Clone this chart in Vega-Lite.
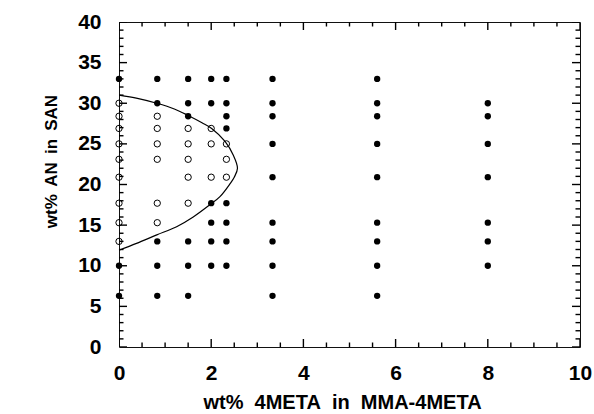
{
  "$schema": "https://vega.github.io/schema/vega-lite/v6.json",
  "width": 461,
  "height": 325,
  "autosize": "none",
  "padding": {"left": 119, "top": 22, "right": 14, "bottom": 67},
  "background": "white",
  "config": {
    "view": {"stroke": "#111111", "strokeWidth": 1},
    "axis": {
      "labelFont": "Liberation Sans",
      "labelFontWeight": "bold",
      "labelFontSize": 21,
      "labelColor": "black",
      "titleFont": "Liberation Sans",
      "titleFontWeight": "bold",
      "titleColor": "black",
      "domain": false,
      "grid": false,
      "ticks": false,
      "labelFlush": false,
      "labelOverlap": false
    }
  },
  "datasets": {
    "xt": [
      {"v": 0, "k": "major"}, {"v": 0.5, "k": "minor"}, {"v": 1, "k": "minor"}, {"v": 1.5, "k": "minor"},
      {"v": 2, "k": "major"}, {"v": 2.5, "k": "minor"}, {"v": 3, "k": "minor"}, {"v": 3.5, "k": "minor"},
      {"v": 4, "k": "major"}, {"v": 4.5, "k": "minor"}, {"v": 5, "k": "minor"}, {"v": 5.5, "k": "minor"},
      {"v": 6, "k": "major"}, {"v": 6.5, "k": "minor"}, {"v": 7, "k": "minor"}, {"v": 7.5, "k": "minor"},
      {"v": 8, "k": "major"}, {"v": 8.5, "k": "minor"}, {"v": 9, "k": "minor"}, {"v": 9.5, "k": "minor"},
      {"v": 10, "k": "major"}
    ],
    "yt": [
      {"v": 0, "k": "major"}, {"v": 1, "k": "minor"}, {"v": 2, "k": "minor"}, {"v": 3, "k": "minor"}, {"v": 4, "k": "minor"},
      {"v": 5, "k": "major"}, {"v": 6, "k": "minor"}, {"v": 7, "k": "minor"}, {"v": 8, "k": "minor"}, {"v": 9, "k": "minor"},
      {"v": 10, "k": "major"}, {"v": 11, "k": "minor"}, {"v": 12, "k": "minor"}, {"v": 13, "k": "minor"}, {"v": 14, "k": "minor"},
      {"v": 15, "k": "major"}, {"v": 16, "k": "minor"}, {"v": 17, "k": "minor"}, {"v": 18, "k": "minor"}, {"v": 19, "k": "minor"},
      {"v": 20, "k": "major"}, {"v": 21, "k": "minor"}, {"v": 22, "k": "minor"}, {"v": 23, "k": "minor"}, {"v": 24, "k": "minor"},
      {"v": 25, "k": "major"}, {"v": 26, "k": "minor"}, {"v": 27, "k": "minor"}, {"v": 28, "k": "minor"}, {"v": 29, "k": "minor"},
      {"v": 30, "k": "major"}, {"v": 31, "k": "minor"}, {"v": 32, "k": "minor"}, {"v": 33, "k": "minor"}, {"v": 34, "k": "minor"},
      {"v": 35, "k": "major"}, {"v": 36, "k": "minor"}, {"v": 37, "k": "minor"}, {"v": 38, "k": "minor"}, {"v": 39, "k": "minor"},
      {"v": 40, "k": "major"}
    ],
    "pts": [
      {"x": 0, "y": 33, "s": "f"}, {"x": 0, "y": 30, "s": "o"}, {"x": 0, "y": 28.4, "s": "o"}, {"x": 0, "y": 26.9, "s": "o"},
      {"x": 0, "y": 25, "s": "o"}, {"x": 0, "y": 23.1, "s": "o"}, {"x": 0, "y": 20.9, "s": "o"}, {"x": 0, "y": 17.7, "s": "o"},
      {"x": 0, "y": 15.3, "s": "o"}, {"x": 0, "y": 13, "s": "o"}, {"x": 0, "y": 10, "s": "f"}, {"x": 0, "y": 6.3, "s": "f"},
      {"x": 0.83, "y": 33, "s": "f"}, {"x": 0.83, "y": 30, "s": "f"}, {"x": 0.83, "y": 28.4, "s": "o"}, {"x": 0.83, "y": 26.9, "s": "o"},
      {"x": 0.83, "y": 25, "s": "o"}, {"x": 0.83, "y": 23.1, "s": "o"}, {"x": 0.83, "y": 17.7, "s": "o"}, {"x": 0.83, "y": 15.3, "s": "o"},
      {"x": 0.83, "y": 13, "s": "f"}, {"x": 0.83, "y": 10, "s": "f"}, {"x": 0.83, "y": 6.3, "s": "f"},
      {"x": 1.5, "y": 33, "s": "f"}, {"x": 1.5, "y": 30, "s": "f"}, {"x": 1.5, "y": 28.4, "s": "f"}, {"x": 1.5, "y": 26.9, "s": "o"},
      {"x": 1.5, "y": 25, "s": "o"}, {"x": 1.5, "y": 23.1, "s": "o"}, {"x": 1.5, "y": 20.9, "s": "o"}, {"x": 1.5, "y": 17.7, "s": "o"},
      {"x": 1.5, "y": 13, "s": "f"}, {"x": 1.5, "y": 10, "s": "f"}, {"x": 1.5, "y": 6.3, "s": "f"},
      {"x": 2.0, "y": 33, "s": "f"}, {"x": 2.0, "y": 30, "s": "f"}, {"x": 2.0, "y": 26.9, "s": "o"}, {"x": 2.0, "y": 25, "s": "o"},
      {"x": 2.0, "y": 20.9, "s": "o"}, {"x": 2.0, "y": 17.7, "s": "f"}, {"x": 2.0, "y": 15.3, "s": "f"}, {"x": 2.0, "y": 13, "s": "f"},
      {"x": 2.0, "y": 10, "s": "f"},
      {"x": 2.33, "y": 33, "s": "f"}, {"x": 2.33, "y": 30, "s": "f"}, {"x": 2.33, "y": 28.4, "s": "f"}, {"x": 2.33, "y": 26.9, "s": "f"},
      {"x": 2.33, "y": 25, "s": "o"}, {"x": 2.33, "y": 23.1, "s": "o"}, {"x": 2.33, "y": 20.9, "s": "o"}, {"x": 2.33, "y": 17.7, "s": "f"},
      {"x": 2.33, "y": 15.3, "s": "f"}, {"x": 2.33, "y": 13, "s": "f"}, {"x": 2.33, "y": 10, "s": "f"},
      {"x": 3.33, "y": 33, "s": "f"}, {"x": 3.33, "y": 30, "s": "f"}, {"x": 3.33, "y": 28.4, "s": "f"}, {"x": 3.33, "y": 25, "s": "f"},
      {"x": 3.33, "y": 20.9, "s": "f"}, {"x": 3.33, "y": 15.3, "s": "f"}, {"x": 3.33, "y": 13, "s": "f"}, {"x": 3.33, "y": 10, "s": "f"},
      {"x": 3.33, "y": 6.3, "s": "f"},
      {"x": 5.6, "y": 33, "s": "f"}, {"x": 5.6, "y": 30, "s": "f"}, {"x": 5.6, "y": 28.4, "s": "f"}, {"x": 5.6, "y": 25, "s": "f"},
      {"x": 5.6, "y": 20.9, "s": "f"}, {"x": 5.6, "y": 15.3, "s": "f"}, {"x": 5.6, "y": 13, "s": "f"}, {"x": 5.6, "y": 10, "s": "f"},
      {"x": 5.6, "y": 6.3, "s": "f"},
      {"x": 8.0, "y": 30, "s": "f"}, {"x": 8.0, "y": 28.4, "s": "f"}, {"x": 8.0, "y": 25, "s": "f"}, {"x": 8.0, "y": 20.9, "s": "f"},
      {"x": 8.0, "y": 15.3, "s": "f"}, {"x": 8.0, "y": 13, "s": "f"}, {"x": 8.0, "y": 10, "s": "f"}
    ],
    "curve": [
      {"i": 1, "x": 0.0, "y": 31.0}, {"i": 2, "x": 0.4, "y": 30.6}, {"i": 3, "x": 0.82, "y": 30.0},
      {"i": 4, "x": 1.2, "y": 29.3}, {"i": 5, "x": 1.5, "y": 28.5}, {"i": 6, "x": 1.8, "y": 27.6},
      {"i": 7, "x": 2.01, "y": 26.9}, {"i": 8, "x": 2.3, "y": 25.3}, {"i": 9, "x": 2.48, "y": 23.6},
      {"i": 10, "x": 2.57, "y": 22.0}, {"i": 11, "x": 2.5, "y": 20.9}, {"i": 12, "x": 2.41, "y": 20.1},
      {"i": 13, "x": 2.19, "y": 18.5}, {"i": 14, "x": 1.97, "y": 17.5}, {"i": 15, "x": 1.61, "y": 16.0},
      {"i": 16, "x": 1.25, "y": 14.8}, {"i": 17, "x": 0.82, "y": 13.8}, {"i": 18, "x": 0.38, "y": 12.75},
      {"i": 19, "x": 0.0, "y": 11.9}
    ]
  },
  "layer": [
    {
      "data": {"name": "curve"},
      "mark": {"type": "line", "interpolate": "catmull-rom", "color": "black", "strokeWidth": 1.2},
      "encoding": {
        "x": {"field": "x", "type": "quantitative", "scale": {"domain": [0, 10], "nice": false},
          "axis": {"orient": "bottom", "values": [0, 2, 4, 6, 8, 10], "labelPadding": 15,
            "title": "wt%\u00a0 4META\u00a0 in\u00a0 MMA-4META", "titleFontSize": 20, "titlePadding": 9, "titleX": 223}},
        "y": {"field": "y", "type": "quantitative", "scale": {"domain": [0, 40], "nice": false},
          "axis": {"orient": "left", "values": [0, 5, 10, 15, 20, 25, 30, 35, 40], "labelPadding": 18,
            "title": "wt%\u2009 AN\u2009 in\u2009 SAN", "titleFontSize": 17, "titlePadding": 17, "titleY": 139}},
        "order": {"field": "i", "type": "quantitative"}
      }
    },
    {
      "data": {"name": "xt"},
      "mark": {"type": "tick", "orient": "vertical", "thickness": 1.4, "color": "black", "opacity": 1, "clip": true},
      "encoding": {
        "x": {"field": "v", "type": "quantitative", "axis": null},
        "y": {"datum": 0, "type": "quantitative", "axis": null},
        "size": {"field": "k", "type": "nominal", "scale": {"domain": ["major", "minor"], "range": [16, 9]}, "legend": null}
      }
    },
    {
      "data": {"name": "xt"},
      "mark": {"type": "tick", "orient": "vertical", "thickness": 1.4, "color": "black", "opacity": 1, "clip": true},
      "encoding": {
        "x": {"field": "v", "type": "quantitative", "axis": null},
        "y": {"datum": 40, "type": "quantitative", "axis": null},
        "size": {"field": "k", "type": "nominal", "scale": {"domain": ["major", "minor"], "range": [16, 9]}, "legend": null}
      }
    },
    {
      "data": {"name": "yt"},
      "mark": {"type": "tick", "orient": "horizontal", "thickness": 1.4, "color": "black", "opacity": 1, "clip": true},
      "encoding": {
        "y": {"field": "v", "type": "quantitative", "axis": null},
        "x": {"datum": 0, "type": "quantitative", "axis": null},
        "size": {"field": "k", "type": "nominal", "scale": {"domain": ["major", "minor"], "range": [16, 9]}, "legend": null}
      }
    },
    {
      "data": {"name": "yt"},
      "mark": {"type": "tick", "orient": "horizontal", "thickness": 1.4, "color": "black", "opacity": 1, "clip": true},
      "encoding": {
        "y": {"field": "v", "type": "quantitative", "axis": null},
        "x": {"datum": 10, "type": "quantitative", "axis": null},
        "size": {"field": "k", "type": "nominal", "scale": {"domain": ["major", "minor"], "range": [16, 9]}, "legend": null}
      }
    },
    {
      "data": {"name": "pts"},
      "transform": [{"filter": "datum.s == 'o'"}],
      "mark": {"type": "point", "shape": "circle", "filled": false, "stroke": "black", "strokeWidth": 1, "size": 40, "opacity": 1},
      "encoding": {
        "x": {"field": "x", "type": "quantitative", "axis": null},
        "y": {"field": "y", "type": "quantitative", "axis": null}
      }
    },
    {
      "data": {"name": "pts"},
      "transform": [{"filter": "datum.s == 'f'"}],
      "mark": {"type": "point", "shape": "circle", "filled": true, "color": "black", "size": 40, "opacity": 1},
      "encoding": {
        "x": {"field": "x", "type": "quantitative", "axis": null},
        "y": {"field": "y", "type": "quantitative", "axis": null}
      }
    }
  ],
  "resolve": {"axis": {"x": "independent", "y": "independent"}}
}
